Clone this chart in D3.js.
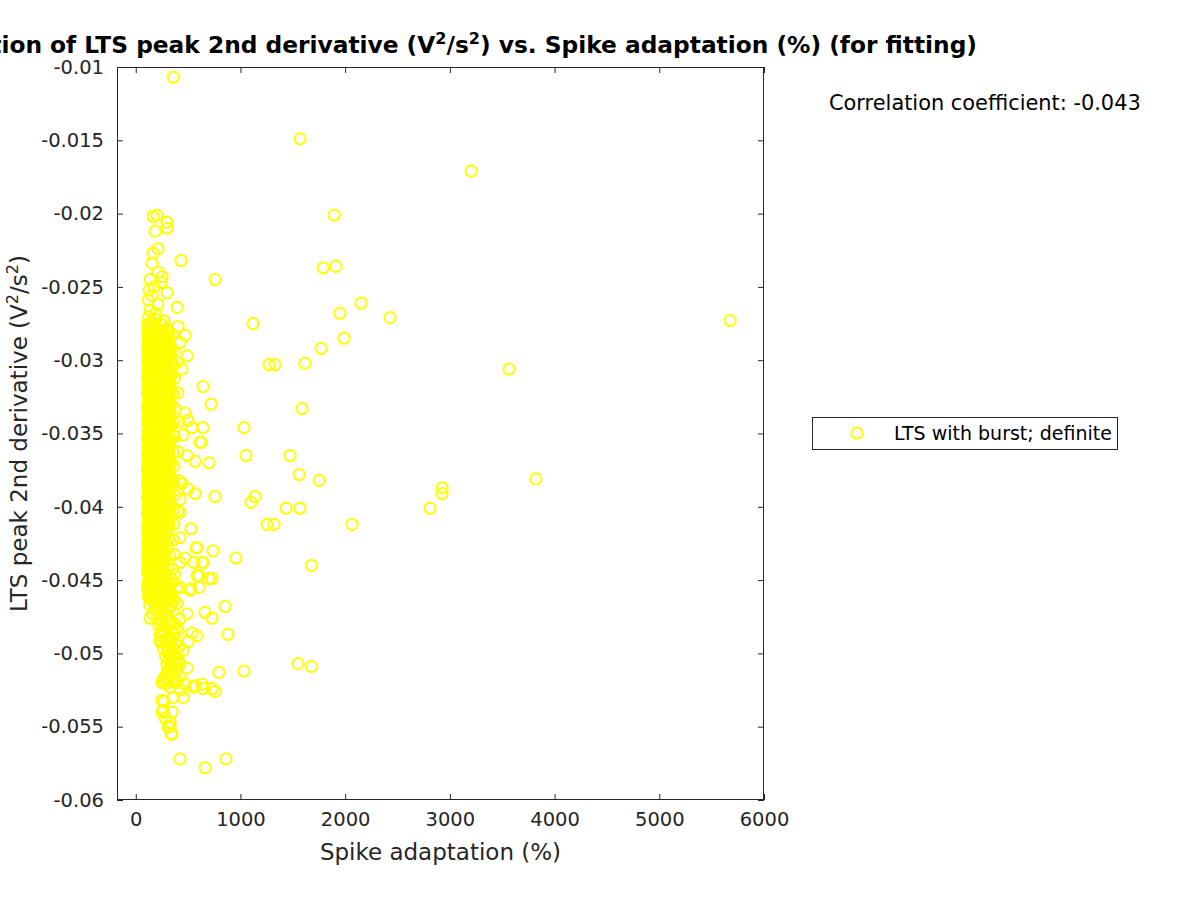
<!DOCTYPE html>
<html><head><meta charset="utf-8">
<script src="https://cdn.jsdelivr.net/npm/d3@7"></script>
<style>body{margin:0;background:#fff}svg{display:block;font-family:"DejaVu Sans",sans-serif}</style>
</head><body><svg id="c" width="1200" height="900"></svg>
<script>
// ---- data (Spike adaptation %, LTS peak 2nd derivative V^2/s^2) ----
const outlierPoints = [[360,-.0107],[1570,-.0149],[3203,-.0171],[1896,-.0201],[432,-.0232],[757,-.0245],[1790,-.0237],[1913,-.0236],[2152,-.0261],[1951,-.0268],[2429,-.0271],[1120,-.0275],[5677,-.0273],[1770,-.0292],[1990,-.0285],[1273,-.0303],[1330,-.0303],[1617,-.0302],[3565,-.0306],[643,-.0318],[719,-.0330],[1588,-.0333],[1034,-.0346],[1053,-.0365],[1474,-.0365],[700,-.0370],[1561,-.0378],[1752,-.0382],[3823,-.0381],[757,-.0393],[1139,-.0393],[1101,-.0397],[2926,-.0387],[2926,-.0391],[1435,-.0401],[1568,-.0401],[2810,-.0401],[1254,-.0412],[1321,-.0412],[2066,-.0412],[957,-.0435],[738,-.0430],[1677,-.0440],[700,-.0449],[729,-.0449],[853,-.0468],[662,-.0472],[729,-.0476],[881,-.0487],[1550,-.0507],[1677,-.0509],[1034,-.0512],[795,-.0513],[757,-.0526],[643,-.0524],[423,-.0572],[662,-.0578],[862,-.0572],[643,-.0346],[614,-.0356],[576,-.0428],[557,-.0438],[643,-.0438],[605,-.0447],[605,-.0455],[519,-.0457],[567,-.0522]];
const fringePoints = [[404,-.0277],[471,-.0283],[423,-.0288],[490,-.0297],[442,-.0306],[471,-.0336],[500,-.0341],[538,-.0346],[452,-.0351],[624,-.0356],[490,-.0365],[567,-.0369],[442,-.0384],[500,-.0388],[567,-.0391],[423,-.0395],[423,-.0404],[528,-.0415],[423,-.0421],[586,-.0428],[471,-.0435],[633,-.0438],[423,-.0438],[586,-.0447],[528,-.0456],[423,-.0455],[490,-.0473],[137,-.0476],[232,-.0492],[538,-.0486],[586,-.0488],[500,-.0492],[452,-.0498],[328,-.0504],[423,-.0507],[490,-.0510],[280,-.0516],[423,-.0516],[357,-.0519],[261,-.0518],[471,-.0521],[633,-.0521],[729,-.0524],[270,-.0519],[270,-.0533],[251,-.0540],[328,-.0550],[337,-.0555],[251,-.0520],[328,-.0523],[423,-.0525],[548,-.0523],[251,-.0532],[357,-.0530],[452,-.0530],[261,-.0539],[347,-.0540],[280,-.0544],[328,-.0547],[309,-.0550],[347,-.0555]];
const upperPoints = [[204,-.0201],[166,-.0202],[299,-.0206],[185,-.0212],[299,-.0210],[213,-.0224],[166,-.0227],[156,-.0234],[213,-.0240],[251,-.0243],[137,-.0245],[299,-.0254],[156,-.0256],[395,-.0264],[118,-.0259],[213,-.0262],[137,-.0266],[242,-.0247],[175,-.0250],[128,-.0252],[190,-.0268]];
const corePoints = [
[124,-.02704],[152,-.02741],[187,-.02722],[233,-.02748],[141,-.02768],[270,-.02731],
[113,-.02753],[138,-.02789],[166,-.02771],[205,-.02795],[258,-.02762],[129,-.02778],[300,-.02785],
[112,-.02803],[127,-.02838],[139,-.02817],[156,-.02844],[171,-.02809],[188,-.02829],[204,-.02847],[223,-.02812],[241,-.02835],[263,-.02821],[287,-.02841],[312,-.02806],
[118,-.02853],[133,-.02888],[148,-.02867],[161,-.02894],[179,-.02859],[195,-.02879],[212,-.02897],[230,-.02862],[251,-.02885],[272,-.02871],[298,-.02891],[326,-.02856],
[110,-.02903],[122,-.02938],[136,-.02917],[151,-.02944],[166,-.02909],[183,-.02929],[199,-.02947],[218,-.02912],[236,-.02935],[257,-.02921],[281,-.02941],[305,-.02906],[332,-.02926],
[116,-.02953],[130,-.02988],[144,-.02967],[158,-.02994],[174,-.02959],[191,-.02979],[208,-.02997],[226,-.02962],[246,-.02985],[268,-.02971],[293,-.02991],[321,-.02956],
[112,-.03012],[127,-.03046],[139,-.03008],[156,-.03031],[171,-.03049],[188,-.03019],[204,-.03038],[223,-.03004],[241,-.03044],[263,-.03027],[287,-.03011],[312,-.03036],[338,-.03022],
[118,-.03061],[133,-.03077],[148,-.03098],[161,-.03055],[179,-.03083],[195,-.03069],[212,-.03052],[230,-.03091],[251,-.03074],[272,-.03058],[298,-.03087],[326,-.03096],
[110,-.03114],[122,-.03132],[136,-.03149],[151,-.03107],[166,-.03128],[183,-.03141],[199,-.03118],[218,-.03136],[236,-.03103],[257,-.03147],[281,-.03124],[305,-.03139],[332,-.03111],
[116,-.03166],[130,-.03153],[144,-.03187],[158,-.03172],[174,-.03194],[191,-.03159],[208,-.03181],[226,-.03168],[246,-.03197],[268,-.03156],[293,-.03176],[321,-.03189],
[112,-.03221],[127,-.03204],[139,-.03239],[156,-.03216],[171,-.03233],[188,-.03247],[204,-.03208],[223,-.03229],[241,-.03212],[263,-.03243],[287,-.03226],[312,-.03249],[338,-.03205],
[118,-.03278],[133,-.03256],[148,-.03271],[161,-.03289],[179,-.03262],[195,-.03296],[212,-.03274],[230,-.03253],[251,-.03282],[272,-.03299],[298,-.03266],[326,-.03279],
[110,-.03327],[122,-.03309],[136,-.03341],[151,-.03322],[166,-.03348],[183,-.03304],[199,-.03336],[218,-.03319],[236,-.03344],[257,-.03307],[281,-.03331],[305,-.03346],[332,-.03314],
[116,-.03384],[130,-.03362],[144,-.03351],[158,-.03377],[174,-.03392],[191,-.03366],[208,-.03388],[226,-.03357],[246,-.03373],[268,-.03395],[293,-.03359],[321,-.03381],
[112,-.03433],[127,-.03418],[139,-.03402],[156,-.03441],[171,-.03424],[188,-.03409],[204,-.03446],[223,-.03427],[241,-.03401],[263,-.03438],[287,-.03415],[312,-.03429],[338,-.03447],
[118,-.03489],[133,-.03467],[148,-.03452],[161,-.03471],[179,-.03498],[195,-.03458],[212,-.03483],[230,-.03476],[251,-.03461],[272,-.03492],[298,-.03473],[326,-.03455],
[110,-.03536],[122,-.03518],[136,-.03503],[151,-.03529],[166,-.03547],[183,-.03511],[199,-.03525],[218,-.03542],[236,-.03507],[257,-.03532],[281,-.03549],[305,-.03514],[332,-.03538],
[116,-.03592],[130,-.03571],[144,-.03559],[158,-.03583],[174,-.03568],[191,-.03596],[208,-.03554],[226,-.03587],[246,-.03566],[268,-.03579],[293,-.03598],[321,-.03562],
[112,-.03645],[127,-.03623],[139,-.03608],[156,-.03632],[171,-.03617],[188,-.03649],[204,-.03603],[223,-.03639],[241,-.03621],[263,-.03606],[287,-.03642],[312,-.03626],
[118,-.03697],[133,-.03674],[148,-.03659],[161,-.03686],[179,-.03668],[195,-.03693],[212,-.03657],[230,-.03681],[251,-.03699],[272,-.03663],[298,-.03688],[326,-.03671],
[110,-.03742],[122,-.03725],[136,-.03708],[151,-.03737],[166,-.03716],[183,-.03749],[199,-.03704],[218,-.03731],[236,-.03745],[257,-.03713],[281,-.03738],[305,-.03721],[332,-.03706],
[116,-.03794],[130,-.03776],[144,-.03761],[158,-.03788],[174,-.03753],[191,-.03782],[208,-.03799],[226,-.03767],[246,-.03786],[268,-.03758],[293,-.03773],[321,-.03791],
[112,-.03847],[127,-.03824],[139,-.03809],[156,-.03836],[171,-.03818],[188,-.03843],[204,-.03806],[223,-.03831],[241,-.03849],[263,-.03815],[287,-.03838],[312,-.03822],[338,-.03811],
[118,-.03896],[133,-.03873],[148,-.03858],[161,-.03884],[179,-.03867],[195,-.03891],[212,-.03854],[230,-.03879],[251,-.03898],[272,-.03862],[298,-.03885],[326,-.03869],
[110,-.03941],[122,-.03923],[136,-.03907],[151,-.03934],[166,-.03915],[183,-.03948],[199,-.03902],[218,-.03929],[236,-.03944],[257,-.03912],[281,-.03937],[305,-.03919],
[116,-.03993],[130,-.03975],[144,-.03958],[158,-.03987],[174,-.03952],[191,-.03981],[208,-.03997],[226,-.03964],[246,-.03985],[268,-.03956],[293,-.03972],[321,-.03989],
[112,-.04046],[127,-.04023],[139,-.04008],[156,-.04035],[171,-.04017],[188,-.04042],[204,-.04005],[223,-.04031],[241,-.04048],[263,-.04014],[287,-.04037],[312,-.04021],
[118,-.04095],[133,-.04072],[148,-.04057],[161,-.04083],[179,-.04066],[195,-.04091],[212,-.04053],[230,-.04078],[251,-.04097],[272,-.04061],[298,-.04084],[326,-.04068],
[110,-.04141],[122,-.04123],[136,-.04106],[151,-.04133],[166,-.04115],[183,-.04147],[199,-.04102],[218,-.04128],[236,-.04143],[257,-.04111],[281,-.04136],[305,-.04119],
[116,-.04192],[130,-.04174],[144,-.04157],[158,-.04186],[174,-.04152],[191,-.04181],[208,-.04196],[226,-.04163],[246,-.04184],[268,-.04155],[293,-.04171],
[112,-.04245],[127,-.04222],[139,-.04207],[156,-.04234],[171,-.04216],[188,-.04241],[204,-.04204],[223,-.04229],[241,-.04247],[263,-.04213],[287,-.04236],
[118,-.04294],[133,-.04271],[148,-.04256],[161,-.04282],[179,-.04265],[195,-.04289],[212,-.04252],[230,-.04277],[251,-.04296],[272,-.04261],[298,-.04283],
[110,-.04341],[122,-.04322],[136,-.04305],[151,-.04332],[166,-.04314],[183,-.04346],[199,-.04301],[218,-.04327],[236,-.04342],[257,-.04311],[281,-.04335],
[116,-.04391],[130,-.04373],[144,-.04356],[158,-.04385],[174,-.04352],[191,-.04379],[208,-.04395],[226,-.04362],[246,-.04383],[268,-.04358],
[112,-.04443],[127,-.04421],[139,-.04406],[156,-.04433],[171,-.04415],[188,-.04439],[204,-.04403],[223,-.04428],[241,-.04446],[263,-.04412]];
const coreFillPoints = [
[121,-.02826],[145,-.02821],[176,-.02832],[214,-.02819],[256,-.02828],[302,-.02834],[352,-.02824],
[125,-.02924],[153,-.02928],[186,-.02921],[226,-.02931],[270,-.02925],[318,-.02919],[365,-.02933],
[119,-.03022],[149,-.03027],[181,-.03031],[219,-.03019],[262,-.03029],[310,-.03024],[358,-.03032],[395,-.03018],
[124,-.03123],[154,-.03129],[187,-.03118],[227,-.03127],[273,-.03121],[322,-.03131],[370,-.03125],
[120,-.03223],[147,-.03226],[178,-.03219],[216,-.03231],[259,-.03224],[306,-.03218],[355,-.03229],[402,-.03222],
[126,-.03322],[155,-.03327],[189,-.03319],[229,-.03331],[275,-.03324],[325,-.03321],[374,-.03329],
[121,-.03424],[149,-.03419],[182,-.03428],[221,-.03422],[266,-.03431],[314,-.03417],[362,-.03426],[410,-.03421],
[125,-.03522],[154,-.03527],[186,-.03521],[227,-.03529],[272,-.03518],[320,-.03526],[371,-.03523],
[120,-.03624],[147,-.03621],[179,-.03628],[218,-.03619],[262,-.03627],[309,-.03622],[357,-.03631],[405,-.03625],
[124,-.03722],[153,-.03728],[186,-.03719],[226,-.03726],[271,-.03723],[318,-.03729],[366,-.03721],
[121,-.03823],[148,-.03826],[181,-.03821],[220,-.03829],[264,-.03824],[312,-.03819],[360,-.03827],[412,-.03822],
[126,-.03924],[155,-.03921],[188,-.03927],[229,-.03922],[276,-.03929],[324,-.03923],[372,-.03918],
[120,-.04021],[147,-.04026],[180,-.04022],[219,-.04028],[263,-.04019],[311,-.04025],[359,-.04023],[400,-.04029],
[124,-.04122],[152,-.04127],[185,-.04121],[225,-.04129],[270,-.04123],[318,-.04126],[364,-.04119],
[121,-.04224],[149,-.04221],[182,-.04227],[221,-.04222],[266,-.04229],[314,-.04223],[360,-.04226],
[125,-.04323],[154,-.04328],[187,-.04321],[228,-.04326],[273,-.04322],[320,-.04329],[366,-.04324],
[120,-.04422],[148,-.04427],[181,-.04423],[219,-.04429],[262,-.04421],[307,-.04426],[350,-.04424],
[118,-.04523],[142,-.04528],[168,-.04522],[195,-.04527],[232,-.04524],[288,-.04521],[330,-.04529],
[128,-.04622],[150,-.04627],[178,-.04624],[220,-.04629],[262,-.04623],[300,-.04628],[345,-.04625]];
const lowerPoints = [
[115,-.04453],[138,-.04482],[162,-.04461],[190,-.04491],[221,-.04468],[255,-.04479],[290,-.04457],[335,-.04486],[372,-.04462],
[124,-.04507],[150,-.04538],[178,-.04516],[207,-.04545],[240,-.04509],[272,-.04532],[310,-.04548],[352,-.04521],
[112,-.04557],[146,-.04573],[183,-.04591],[226,-.04562],[264,-.04584],[301,-.04568],[340,-.04596],[388,-.04555],
[121,-.04612],[160,-.04636],[199,-.04608],[243,-.04645],[283,-.04622],[322,-.04603],[367,-.04639],
[134,-.04667],[176,-.04653],[214,-.04689],[256,-.04661],[296,-.04692],[341,-.04674],[395,-.04658],
[189,-.04705],[228,-.04738],[268,-.04716],[309,-.04744],[354,-.04712],[160,-.04729],
[205,-.04762],[244,-.04791],[285,-.04757],[330,-.04779],[372,-.04798],[420,-.04766],
[220,-.04812],[262,-.04838],[301,-.04806],[345,-.04845],[392,-.04827],[244,-.04861],
[236,-.04877],[278,-.04856],[318,-.04889],[362,-.04869],[405,-.04852],[296,-.04898],
[252,-.04916],[289,-.04943],[331,-.04908],[375,-.04932],[414,-.04951],[310,-.04962],
[268,-.04973],[305,-.04991],[347,-.04958],[388,-.04985],[330,-.05002],
[285,-.05021],[322,-.05043],[364,-.05012],[400,-.05035],[345,-.05058],
[296,-.05072],[338,-.05091],[378,-.05063],[311,-.05112],
[302,-.05127],[350,-.05143],[390,-.05118],[282,-.05158],[370,-.05176],
[296,-.05202],[388,-.05197]];
const xTicks = [0,1000,2000,3000,4000,5000,6000];
const yTicks = [-0.06,-0.055,-0.05,-0.045,-0.04,-0.035,-0.03,-0.025,-0.02,-0.015,-0.01];
const seriesName = "LTS with burst; definite";
const correlationText = "Correlation coefficient: -0.043";

const allPoints = [].concat(corePoints, coreFillPoints, lowerPoints, upperPoints, fringePoints, outlierPoints);

const svg = d3.select("#c");
const L = 117, R = 764, T = 67, B = 800;
const x = d3.scaleLinear().domain([-179, 6000]).range([L, R]);
const y = d3.scaleLinear().domain([-0.06, -0.01]).range([B, T]);
const axisColor = "#262626";

svg.append("rect").attr("width",1200).attr("height",900).attr("fill","#fff");
svg.append("rect").attr("x",L).attr("y",T).attr("width",R-L).attr("height",B-T).attr("fill","#fff");

// points
svg.append("g").selectAll("circle").data(allPoints).join("circle")
  .attr("cx", d => x(d[0])).attr("cy", d => y(d[1])).attr("r", 5.6)
  .attr("fill","none").attr("stroke","#ffff00").attr("stroke-width",2);

function styleAxis(g, labels){
  g.select(".domain").remove();
  g.selectAll(".tick line").attr("stroke", axisColor).attr("stroke-width",1);
  g.selectAll(".tick text").attr("fill", axisColor).style("font-size","19.5px").style("font-family","DejaVu Sans");
  if(!labels) g.selectAll(".tick text").remove();
}
const fmtY = d => String(+d.toFixed(3));
svg.append("g").attr("transform",`translate(0,${B})`)
  .call(d3.axisBottom(x).tickValues(xTicks).tickSizeInner(-6).tickSizeOuter(0).tickPadding(12).tickFormat(d3.format("d")))
  .call(g => styleAxis(g,true));
svg.append("g").attr("transform",`translate(0,${T})`)
  .call(d3.axisTop(x).tickValues(xTicks).tickSizeInner(-6).tickSizeOuter(0))
  .call(g => styleAxis(g,false));
svg.append("g").attr("transform",`translate(${L},0)`)
  .call(d3.axisLeft(y).tickValues(yTicks).tickSizeInner(-6).tickSizeOuter(0).tickPadding(13).tickFormat(fmtY))
  .call(g => styleAxis(g,true));
svg.append("g").attr("transform",`translate(${R},0)`)
  .call(d3.axisRight(y).tickValues(yTicks).tickSizeInner(-6).tickSizeOuter(0))
  .call(g => styleAxis(g,false));
svg.append("rect").attr("x",L+0.5).attr("y",T+0.5).attr("width",R-L-1).attr("height",B-T-1)
  .attr("fill","none").attr("stroke",axisColor).attr("stroke-width",1);

// labels
svg.append("text").attr("x",(L+R)/2).attr("y",860).attr("text-anchor","middle")
  .attr("fill",axisColor).style("font-size","23px").text("Spike adaptation (%)");
const yl = svg.append("text").attr("transform",`translate(27,${(T+B)/2}) rotate(-90)`).attr("text-anchor","middle")
  .attr("fill",axisColor).style("font-size","23px");
yl.append("tspan").text("LTS peak 2nd derivative (V");
yl.append("tspan").attr("dy",-9).style("font-size","16px").text("2");
yl.append("tspan").attr("dy",9).text("/s");
yl.append("tspan").attr("dy",-9).style("font-size","16px").text("2");
yl.append("tspan").attr("dy",9).text(")");

const tt = svg.append("text").attr("x",977).attr("y",53).attr("text-anchor","end")
  .attr("fill","#000").style("font-size","23.3px").style("font-weight","bold");
tt.append("tspan").text("Correlation of LTS peak 2nd derivative (V");
tt.append("tspan").attr("dy",-9).style("font-size","16px").text("2");
tt.append("tspan").attr("dy",9).text("/s");
tt.append("tspan").attr("dy",-9).style("font-size","16px").text("2");
tt.append("tspan").attr("dy",9).text(") vs. Spike adaptation (%) (for fitting)");

svg.append("text").attr("x",829).attr("y",110).attr("fill","#000").style("font-size","20.9px").text(correlationText);

// legend
svg.append("rect").attr("x",812.5).attr("y",417.5).attr("width",305).attr("height",32)
  .attr("fill","#fff").attr("stroke","#262626").attr("stroke-width",1);
svg.append("circle").attr("cx",857).attr("cy",433).attr("r",5.6).attr("fill","none").attr("stroke","#ffff00").attr("stroke-width",2);
svg.append("text").attr("x",894).attr("y",440).attr("fill","#000").style("font-size","19px").text(seriesName);
</script></body></html>
